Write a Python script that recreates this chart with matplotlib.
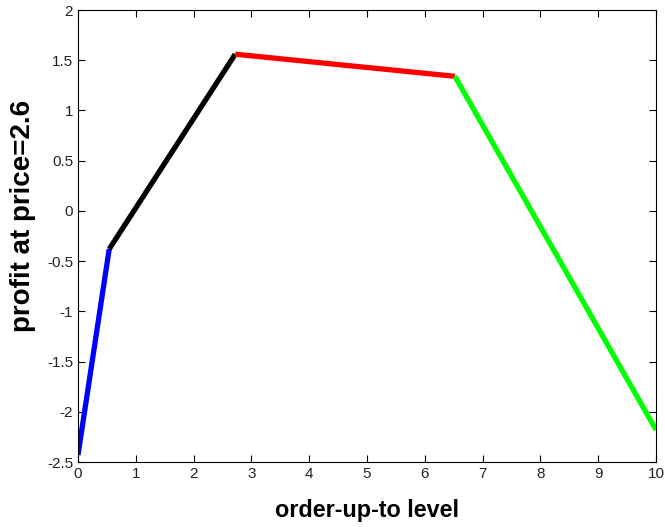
import matplotlib
matplotlib.use("Agg")
import matplotlib.pyplot as plt

plt.rcParams['font.family'] = ['Liberation Sans', 'DejaVu Sans']

seg_x = [[0, 0.54], [0.54, 2.72], [2.72, 6.52], [6.52, 10]]
seg_y = [[-2.43, -0.38], [-0.38, 1.56], [1.56, 1.34], [1.34, -2.18]]
seg_colors = ['#0000ff', '#000000', '#ff0000', '#00ff00']

xticks = list(range(0, 11))
yticks = [-2.5, -2, -1.5, -1, -0.5, 0, 0.5, 1, 1.5, 2]
ytick_labels = ['-2.5', '-2', '-1.5', '-1', '-0.5', '0', '0.5', '1', '1.5', '2']

fig = plt.figure(figsize=(6.65, 5.27), dpi=100)
ax = fig.add_axes([78/665, 1 - 462/527, (656-78)/665, (462-10)/527])
for xs, ys, c in zip(seg_x, seg_y, seg_colors):
    ax.plot(xs, ys, color=c, lw=3.8, solid_capstyle='butt')
ax.set_xlim(0, 10)
ax.set_ylim(-2.5, 2)
ax.set_xticks(xticks)
ax.set_yticks(yticks)
ax.set_yticklabels(ytick_labels)
ax.tick_params(direction='in', top=True, right=True, labelsize=11, length=5,
               labelcolor='#222222')
ax.set_xlabel('order-up-to level', fontsize=16.8, fontweight='bold', labelpad=13)
ax.set_ylabel('profit at price=2.6', fontsize=20, fontweight='bold')
ax.yaxis.set_label_coords(-0.072, 0.544)
fig.savefig('out.png', dpi=100)
